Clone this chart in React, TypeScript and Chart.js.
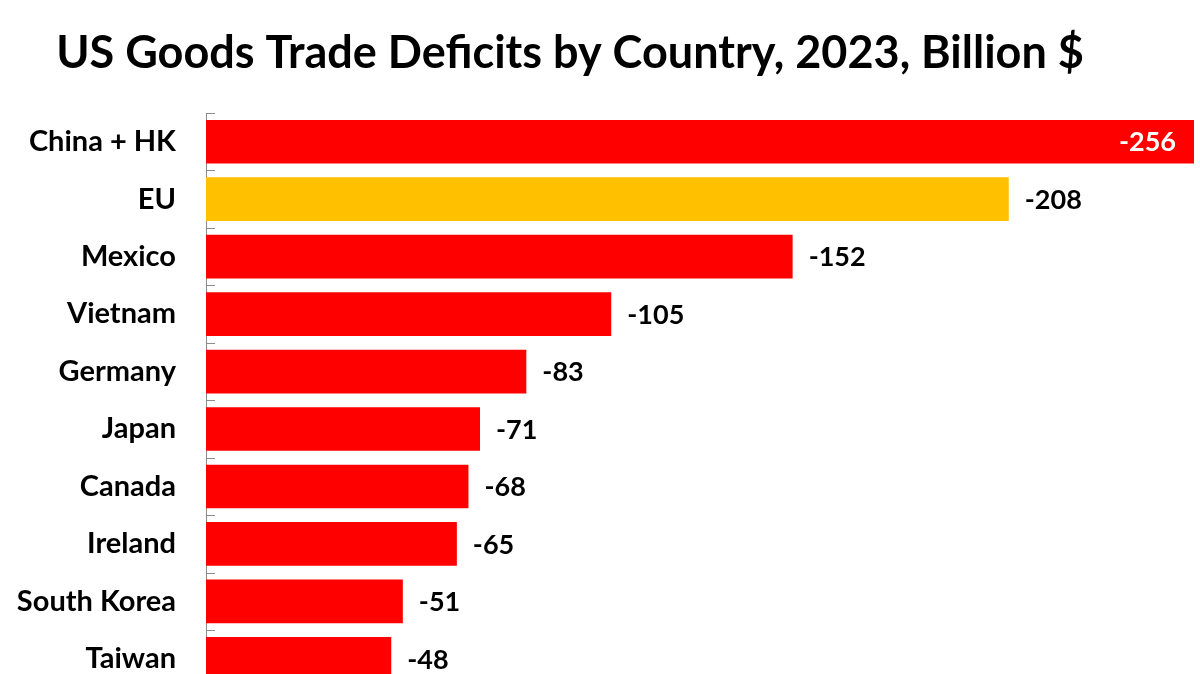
import { useEffect, useRef } from "react";
import { Chart, registerables } from "chart.js";

Chart.register(...registerables);

const countries = [
  "China + HK",
  "EU",
  "Mexico",
  "Vietnam",
  "Germany",
  "Japan",
  "Canada",
  "Ireland",
  "South Korea",
  "Taiwan",
];
const deficits = [-256, -208, -152, -105, -83, -71, -68, -65, -51, -48];
const highlightCountry = "EU";
const titleText = "US Goods Trade Deficits by Country, 2023, Billion $";

const FONT = "Lato, 'Open Sans', sans-serif";

const titlePlugin = {
  id: "customTitle",
  afterDraw(chart: any) {
    const ctx = chart.ctx;
    ctx.save();
    ctx.font = `bold 45px ${FONT}`;
    ctx.fillStyle = "#000";
    ctx.textAlign = "center";
    ctx.textBaseline = "alphabetic";
    ctx.fillText(titleText, 570, 68);
    ctx.restore();
  },
};

const tickPlugin = {
  id: "innerTicks",
  afterDraw(chart: any) {
    const y = chart.scales.y;
    const ctx = chart.ctx;
    const left = chart.chartArea.left;
    const n = countries.length;
    const step = n > 1 ? y.getPixelForTick(1) - y.getPixelForTick(0) : 0;
    ctx.save();
    ctx.strokeStyle = "#8c8c8c";
    ctx.lineWidth = 1;
    for (let i = 0; i <= n; i++) {
      const py = Math.round(y.getPixelForTick(0) - step / 2 + i * step) + 0.5;
      ctx.beginPath();
      ctx.moveTo(left, py);
      ctx.lineTo(left + 9, py);
      ctx.stroke();
    }
    ctx.restore();
  },
};

const valueLabelPlugin = {
  id: "valueLabels",
  afterDatasetsDraw(chart: any) {
    const ctx = chart.ctx;
    const meta = chart.getDatasetMeta(0);
    const right = chart.chartArea.right;
    ctx.save();
    ctx.font = `bold 27px ${FONT}`;
    ctx.textBaseline = "middle";
    meta.data.forEach((bar: any, i: number) => {
      const text = String(deficits[i]);
      const w = ctx.measureText(text).width;
      if (bar.x + 16 + w > right) {
        ctx.fillStyle = "#fff";
        ctx.textAlign = "right";
        ctx.fillText(text, bar.x - 18, bar.y + 1);
      } else {
        ctx.fillStyle = "#000";
        ctx.textAlign = "left";
        ctx.fillText(text, bar.x + 16, bar.y + 1);
      }
    });
    ctx.restore();
  },
};

export default function App() {
  const ref = useRef<HTMLCanvasElement | null>(null);

  useEffect(() => {
    document.body.style.margin = "0";
    const canvas = ref.current;
    if (!canvas) return;
    const chart = new Chart(canvas, {
      type: "bar",
      data: {
        labels: countries,
        datasets: [
          {
            data: deficits,
            backgroundColor: countries.map((c) =>
              c === highlightCountry ? "#FFC000" : "#FF0000"
            ),
            borderWidth: 0,
            categoryPercentage: 1,
            barPercentage: 0.76,
          },
        ],
      },
      options: {
        indexAxis: "y",
        responsive: false,
        animation: false,
        layout: { padding: { top: 113, right: 6, left: 0, bottom: 0 } },
        plugins: {
          legend: { display: false },
          title: { display: false },
          tooltip: { enabled: false },
        },
        scales: {
          x: {
            display: false,
            reverse: true,
            min: -256,
            max: 0,
          },
          y: {
            type: "category",
            grid: { display: false },
            border: { display: true, color: "#8c8c8c", width: 1 },
            ticks: {
              color: "#000",
              padding: 22,
              font: { family: FONT, size: 29, weight: "bold" },
            },
            afterFit: (scale: any) => {
              scale.width = 206;
            },
          },
        },
      },
      plugins: [titlePlugin, tickPlugin, valueLabelPlugin],
    } as any);
    return () => chart.destroy();
  }, []);

  return (
    <div style={{ width: 1200, height: 674, overflow: "hidden", background: "#fff" }}>
      <canvas ref={ref} width={1200} height={727} style={{ display: "block" }} />
    </div>
  );
}
